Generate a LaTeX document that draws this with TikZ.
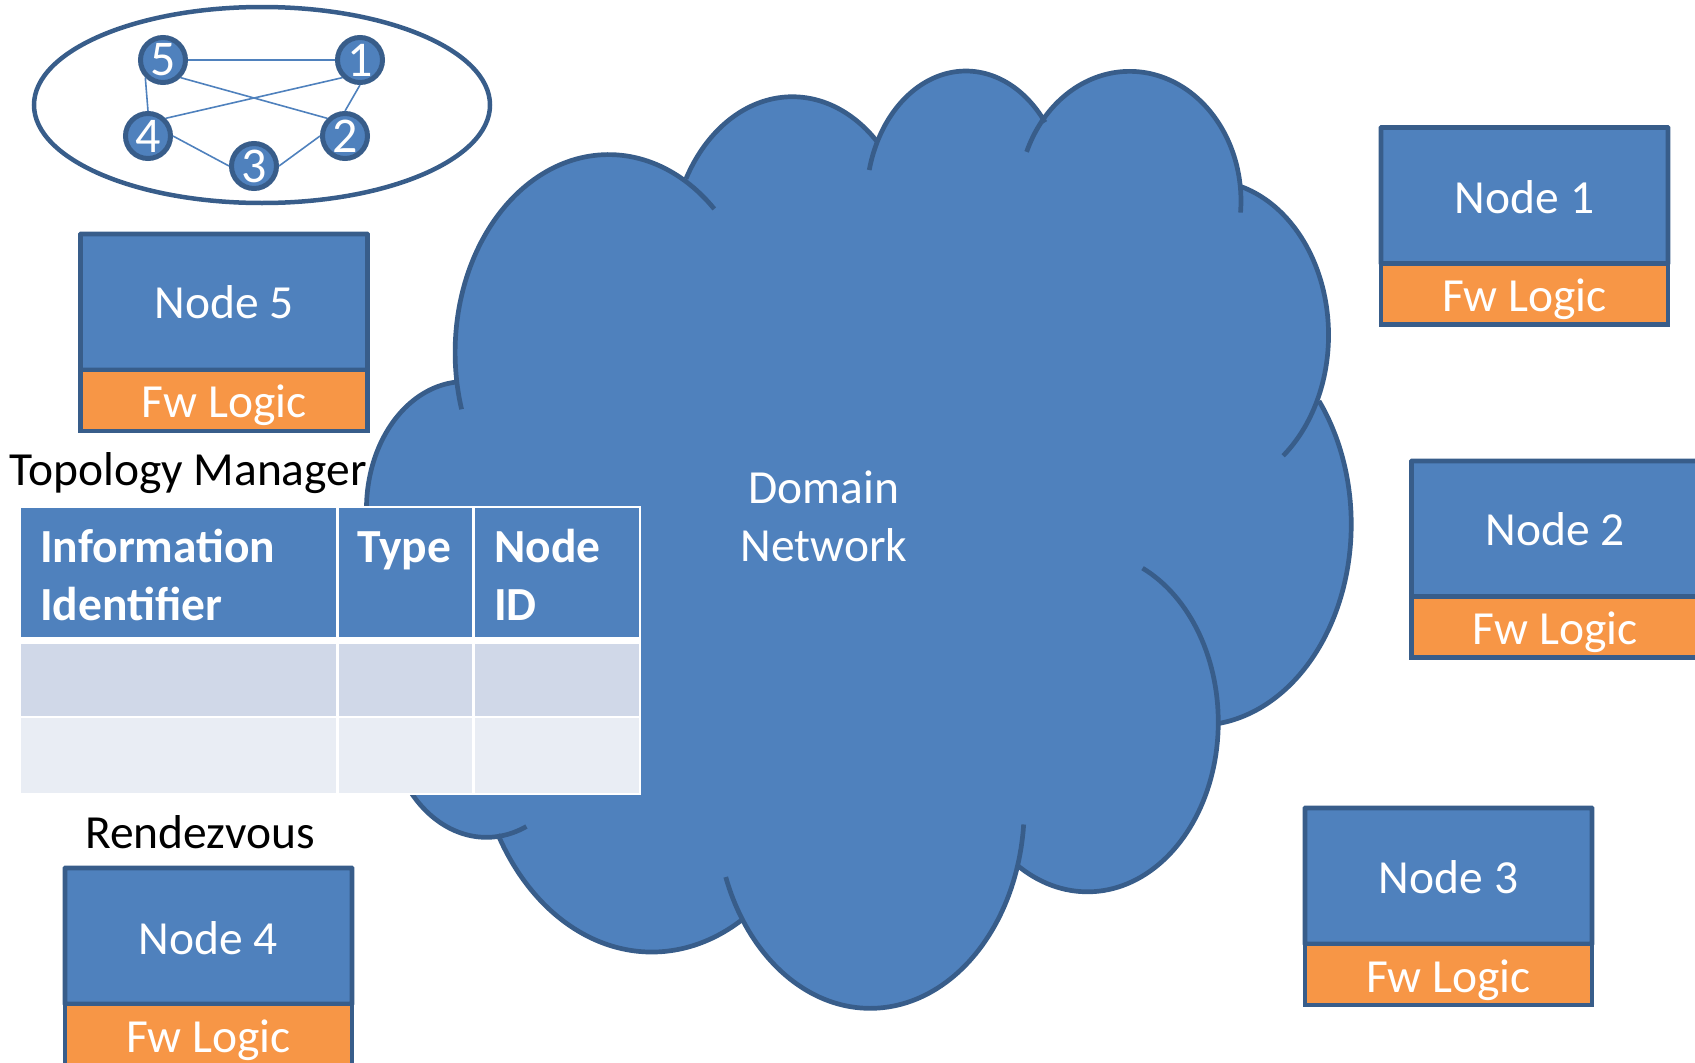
\documentclass[tikz,border=0pt]{standalone}
\usepackage{fontspec}
\setmainfont{Carlito}
\definecolor{blu}{HTML}{4F81BD}
\definecolor{edg}{HTML}{385D8A}
\definecolor{org}{HTML}{F79646}
\definecolor{rowa}{HTML}{D0D8E8}
\definecolor{rowb}{HTML}{E9EDF4}
\newcommand{\cloudlobes}[1]{%
 #1{563}{326}{142}{183}{-196.7}{-46.5}
 #1{733}{235.5}{112.2}{146}{-151.3}{-45.5}
 #1{893.5}{185.7}{92}{120}{-166.3}{-37.2}
 #1{1045}{186}{103}{120}{-157.7}{5.1}
 #1{1117}{310}{112}{143}{-74.6}{51.3}
 #1{1108}{485}{142}{186}{-37.8}{82.4}
 #1{1006}{668}{121}{157}{-65.1}{122.9}
 #1{805}{746.8}{142.5}{186}{4.9}{159.7}
 #1{603}{668.7}{163}{212}{58.8}{150.9}
 #1{450}{655.6}{92}{119}{66.3}{200}
 #1{430}{471}{91}{118}{150}{265}
}
\newcommand{\lobefill}[6]{\fill[blu] (#1,#2) ellipse [x radius=#3,y radius=#4];}
\newcommand{\lobeline}[6]{\draw[bump] plot[domain=#5:#6,samples=90] ({#1+#3*cos(\x)},{#2+#4*sin(\x)});}
\tikzset{
 x=1pt,y=-1pt,
 bump/.style={draw=edg,line width=4.7pt,line cap=butt,line join=round},
 nodeup/.style={draw=edg,fill=blu,line width=4.7pt,rounded corners=.5pt,minimum width=287pt,minimum height=136pt,inner sep=0pt,text=white,font=\fontsize{47.5}{47.5}\selectfont,text height=33pt,text depth=0pt},
 nodefw/.style={draw=edg,fill=org,line width=4.7pt,minimum width=287pt,minimum height=61pt,inner sep=0pt,text=white,font=\fontsize{47.5}{47.5}\selectfont,text height=33pt,text depth=0pt},
 gnode/.style={circle,draw=edg,fill=blu,line width=5pt,minimum size=45pt,inner sep=0pt,text=white,font=\fontsize{50}{50}\selectfont},
 gedge/.style={draw=blu,line width=1.6pt},
 lab/.style={inner sep=0pt,anchor=base west,font=\fontsize{47.5}{47.5}\selectfont},
 tcell/.style={white,line width=2.5pt},
 thead/.style={inner sep=0pt,anchor=base west,text=white,font=\fontsize{47.5}{47.5}\selectfont\bfseries},
 dntext/.style={inner sep=0pt,anchor=base,text=white,font=\fontsize{47.5}{47.5}\selectfont}
}
\begin{document}
\begin{tikzpicture}
\useasboundingbox (0,0) rectangle (1695,1063);
% cloud
\begin{scope}[x=1.081pt,y=-1.081pt]
\fill[blu] (430,360)--(470,200)--(640,180)--(820,140)--(960,130)--(1140,190)--(1200,420)--(1210,600)--(1120,670)--(1100,760)--(940,790)--(910,830)--(690,840)--(470,770)--(400,740)--(370,640)--(345,470)--cycle;
\cloudlobes{\lobefill}
\cloudlobes{\lobeline}
\end{scope}
% table
\fill[blu] (21,507) rectangle (640,637.5);
\fill[rowa] (21,644) rectangle (640,717);
\fill[rowb] (21,717) rectangle (640,794);
\draw[tcell] (21,507)--(640,507)--(640,794)--(21,794);
\draw[tcell] (21,717)--(640,717);
\draw[tcell,line width=7pt] (21,640.5)--(640,640.5);
\draw[tcell] (337.5,507)--(337.5,794) (473.5,507)--(473.5,794);
\node[thead] (t1) at (40,562) {Information};
\node[thead] (t2) at (40,620) {Identifier};
\node[thead] (t3) at (357,562) {Type};
\node[thead] (t4) at (494,562) {Node};
\node[thead] (t5) at (494,620) {ID};
\node[lab] (tm) at (9,485) {Topology Manager};
\node[lab] (rv) at (85,848) {Rendezvous};
\node[dntext] (dn1) at (824,503) {Domain};
\node[dntext] (dn2) at (824,561) {Network};
% node boxes
\node[nodeup,text height=35pt] (n1) at (1524.5,195.5) {Node 1};
\node[nodefw,text height=35pt] (f1) at (1524.5,294) {Fw Logic};
\node[nodeup] (n2) at (1555,529) {Node 2};
\node[nodefw,text height=35pt] (f2) at (1555,627) {Fw Logic};
\node[nodeup,text height=35pt] (n3) at (1448.5,876) {Node 3};
\node[nodefw,text height=35pt] (f3) at (1448.5,974.5) {Fw Logic};
\node[nodeup,text height=36pt] (n4) at (208.5,936) {Node 4};
\node[nodefw,text height=35pt] (f4) at (208.5,1034.5) {Fw Logic};
\node[nodeup] (n5) at (224,302) {Node 5};
\node[nodefw] (f5) at (224,400.5) {Fw Logic};
% ellipse and graph
\draw[edg,line width=4.5pt] (262,105) ellipse [x radius=228,y radius=98];
\node[gnode] (g5) at (163,60) {5};
\node[gnode] (g1) at (360,60) {1};
\node[gnode] (g4) at (148,136) {4};
\node[gnode] (g2) at (345,136) {2};
\node[gnode] (g3) at (254,166) {3};
\draw[gedge] (g5.east)--(g1.west) (g5.south east)--(g2.north west) (g1.south west)--(g4.north east) (g1.south)--(g2.north) (g5.south west)--(g4.north) (g4.east)--(g3.west) (g3.east)--(g2.west);
\end{tikzpicture}
\end{document}
